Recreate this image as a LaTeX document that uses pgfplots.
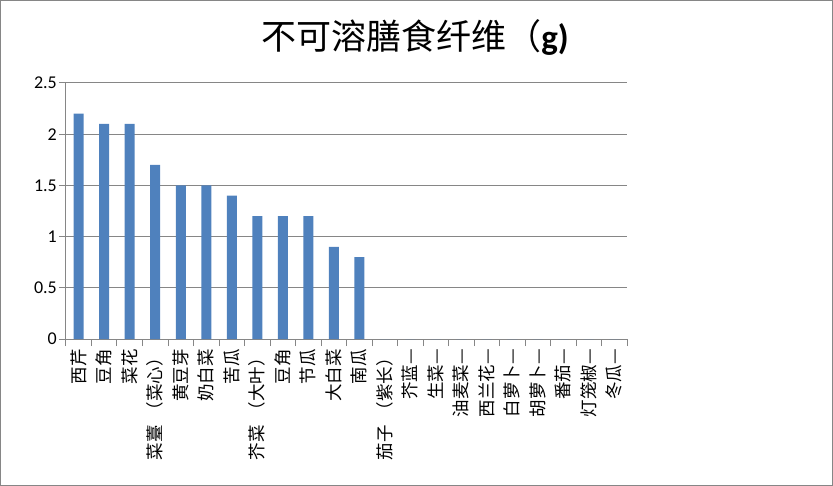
\documentclass[border=0pt]{standalone}
\usepackage{pgfplots}
\pgfplotsset{compat=1.18}
\usepackage{fontspec}
\setmainfont{Carlito}
\newfontfamily\cjk{Noto Sans CJK SC}
\definecolor{barblue}{RGB}{79,129,189}
\definecolor{gridgray}{RGB}{134,134,134}
\newcommand{\lp}{\hspace{6bp}（}
\begin{document}
\begin{tikzpicture}
\begin{axis}[
  at={(0bp,0bp)}, anchor=south west,
  scale only axis, width=561bp, height=256bp,
  xmin=-0.5, xmax=21.5, ymin=0, ymax=2.5,
  axis x line*=bottom, axis y line*=left,
  axis line style={gridgray, line width=1bp},
  ymajorgrids, major grid style={gridgray, line width=1bp},
  ytick={0,0.5,1,1.5,2,2.5},
  /pgf/number format/assume math mode=true,
  yticklabel style={font=\fontsize{18bp}{18bp}\selectfont, text=black, inner sep=2bp},
  tick align=outside,
  major tick length=7bp,
  minor tick length=7bp,
  tick style={gridgray, line width=1bp},
  xtick={0,...,21},
  minor xtick={-0.5,0.5,...,21.5},
  major x tick style={draw=none},
  xticklabels={西芹,豆角,菜花,菜薹\lp 菜心）,黄豆芽,奶白菜,苦瓜,芥菜\lp 大叶）,豆角,节瓜,大白菜,南瓜,茄子\lp 紫长）,芥蓝—,生菜—,油麦菜—,西兰花—,白萝卜—,胡萝卜—,番茄—,灯笼椒—,冬瓜—},
  xticklabel style={rotate=90, anchor=east, font=\cjk\fontsize{17.5bp}{18bp}\selectfont, text=black, inner sep=3bp},
]
\addplot[ybar, fill=barblue, draw=none, bar width=10bp] coordinates {
(0,2.2) (1,2.1) (2,2.1) (3,1.7) (4,1.5) (5,1.5) (6,1.4) (7,1.2) (8,1.2) (9,1.2) (10,0.9) (11,0.8)
(12,0) (13,0) (14,0) (15,0) (16,0) (17,0) (18,0) (19,0) (20,0) (21,0)};
\end{axis}
\draw[gridgray, line width=1.5bp] (-65.25bp,-146.25bp) rectangle (766.25bp,338.25bp);
\node[font={\fontsize{35bp}{36bp}\selectfont}] at (349bp,302bp) {{\cjk 不可溶膳食纤维（}\textbf{g)}};
\end{tikzpicture}
\end{document}
